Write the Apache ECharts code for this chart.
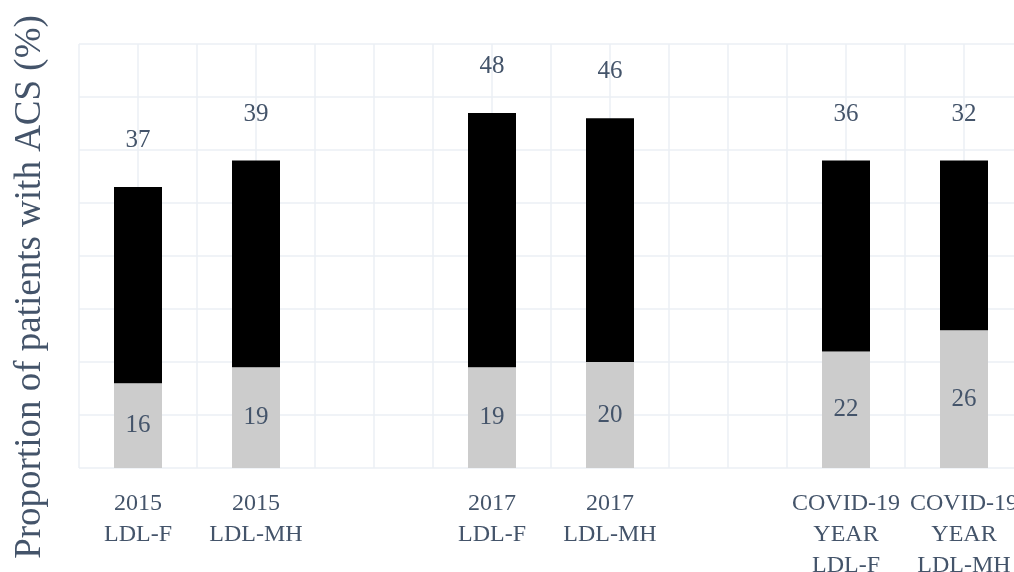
<!DOCTYPE html>
<html>
<head>
<meta charset="utf-8">
<script src="https://cdn.jsdelivr.net/npm/echarts@6/dist/echarts.min.js"></script>
<style>
  html, body { margin: 0; padding: 0; background: #fff; }
  #chart { width: 1014px; height: 572px; }
</style>
</head>
<body>
<div id="chart"></div>
<script>
(function() {
    // blank entries are the gaps between groups
    const categories = ['2015\nLDL-F', '2015\nLDL-MH', '', '2017\nLDL-F', '2017\nLDL-MH', '', 'COVID-19\nYEAR\nLDL-F', 'COVID-19\nYEAR\nLDL-MH'];
    const lowerValues = [16, 19, '-', 19, 20, '-', 22, 26];
    const upperValues = [37, 39, '-', 48, 46, '-', 36, 32];
    const yTicks = { min: 0, max: 80, interval: 10 };

    const textColor = '#44546a';
    const gridColor = '#ebeff4';
    const font = '"Liberation Serif", "Times New Roman", serif';

    const chart = echarts.init(document.getElementById('chart'));
    chart.setOption({
        animation: false,
        grid: { left: 79, right: -9, top: 44, bottom: 104, outerBoundsMode: 'none', containLabel: false },
        xAxis: [{
            type: 'category',
            data: categories,
            axisLine: { show: false },
            axisTick: { show: false },
            splitLine: { show: false },
            axisLabel: {
                interval: 0,
                color: textColor,
                fontFamily: font,
                fontSize: 24,
                lineHeight: 31,
                margin: 20
            }
        }, {
            // finer vertical grid: boundaries and centres of every slot
            type: 'value',
            min: 0,
            max: categories.length * 2,
            interval: 1,
            position: 'top',
            axisLine: { show: false },
            axisTick: { show: false },
            axisLabel: { show: false },
            splitLine: { show: true, lineStyle: { color: gridColor, width: 1.5 } }
        }],
        yAxis: {
            type: 'value',
            min: yTicks.min,
            max: yTicks.max,
            interval: yTicks.interval,
            axisLine: { show: false },
            axisTick: { show: false },
            axisLabel: { show: false },
            splitLine: { lineStyle: { color: gridColor, width: 1.5 } },
            name: 'Proportion of patients with ACS (%)',
            nameLocation: 'middle',
            nameGap: 30,
            nameTextStyle: {
                color: textColor,
                fontFamily: font,
                fontSize: 37,
                padding: [0, 62, 0, 0]
            }
        },
        series: [{
            type: 'bar',
            stack: 'acs',
            data: lowerValues,
            barWidth: 48,
            itemStyle: { color: '#cccccc' },
            label: {
                show: true,
                position: 'inside',
                color: textColor,
                fontFamily: font,
                fontSize: 25
            }
        }, {
            type: 'bar',
            stack: 'acs',
            data: upperValues,
            barWidth: 48,
            itemStyle: { color: '#000000' },
            label: {
                show: true,
                position: 'top',
                distance: 34,
                color: textColor,
                fontFamily: font,
                fontSize: 25
            }
        }]
    });
})();
</script>
</body>
</html>
